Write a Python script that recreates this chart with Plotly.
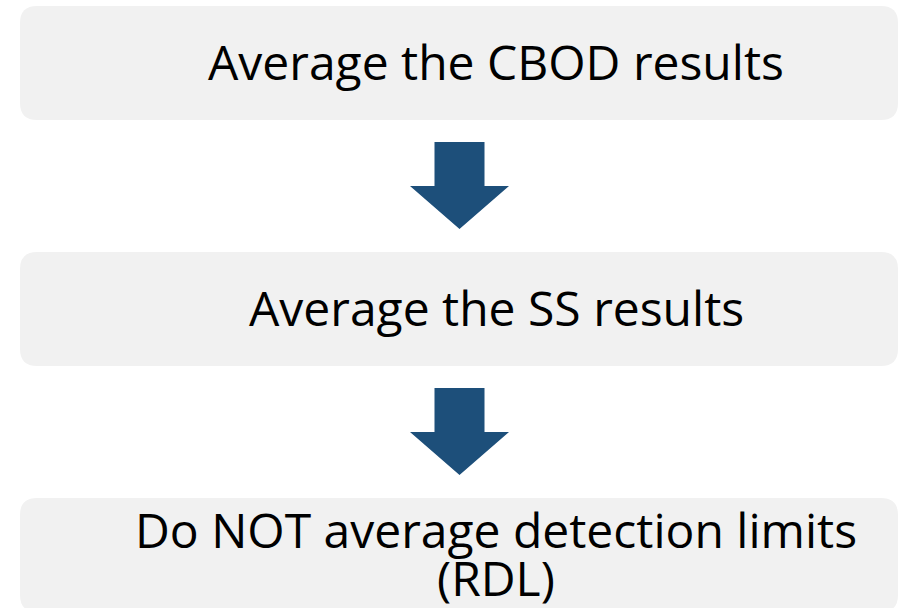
import plotly.graph_objects as go

# Flowchart content
step_lines = [
    ["Average the CBOD results"],
    ["Average the SS results"],
    ["Do NOT average detection limits", "(RDL)"],
]

BOX_FILL = "#f1f1f1"
ARROW_FILL = "#1d4f7a"
FONT = "Open Sans, Noto Sans, sans-serif"

W, H = 905, 608
box_x0, box_x1 = 20, 898
box_top0 = 6
box_h = 114
step_gap = 246
radius = 17
text_cx = 496
font_size = 48
line_gap = 48


def rounded_rect(x0, y0, x1, y1, r):
    return (f"M {x0+r},{y0} L {x1-r},{y0} Q {x1},{y0} {x1},{y0+r} "
            f"L {x1},{y1-r} Q {x1},{y1} {x1-r},{y1} L {x0+r},{y1} "
            f"Q {x0},{y1} {x0},{y1-r} L {x0},{y0+r} Q {x0},{y0} {x0+r},{y0} Z")


def down_arrow(cx, top, shaft_w, shaft_h, head_w, head_h):
    sx0, sx1 = cx - shaft_w / 2, cx + shaft_w / 2
    hy = top + shaft_h
    return (f"M {sx0},{top} L {sx1},{top} L {sx1},{hy} L {cx+head_w/2},{hy} "
            f"L {cx},{hy+head_h} L {cx-head_w/2},{hy} L {sx0},{hy} Z")


fig = go.Figure()
shapes = []
annotations = []
for i, lines in enumerate(step_lines):
    y0 = box_top0 + i * step_gap
    y1 = y0 + box_h
    shapes.append(dict(type="path", path=rounded_rect(box_x0, y0, box_x1, y1, radius),
                       fillcolor=BOX_FILL, line=dict(width=0), layer="below",
                       xref="x", yref="y"))
    cy = (y0 + y1) / 2 - 2
    n = len(lines)
    for j, t in enumerate(lines):
        ty = cy + (j - (n - 1) / 2) * line_gap
        annotations.append(dict(x=text_cx, y=ty, text=t, showarrow=False,
                                xref="x", yref="y", xanchor="center", yanchor="middle",
                                font=dict(family=FONT, size=font_size, color="#000000")))
    if i < len(step_lines) - 1:
        shapes.append(dict(type="path",
                           path=down_arrow(459.5, y1 + 22, 50, 44, 99, 43),
                           fillcolor=ARROW_FILL, line=dict(width=0),
                           xref="x", yref="y"))

fig.update_layout(
    width=W, height=H,
    margin=dict(l=0, r=0, t=0, b=0),
    paper_bgcolor="white", plot_bgcolor="white",
    shapes=shapes, annotations=annotations,
    xaxis=dict(range=[0, W], visible=False, fixedrange=True),
    yaxis=dict(range=[H, 0], visible=False, fixedrange=True),
    showlegend=False,
)

fig.write_html("out.html", config={"displayModeBar": False},
               post_script="document.body.style.margin='0';document.body.style.overflow='hidden';")
